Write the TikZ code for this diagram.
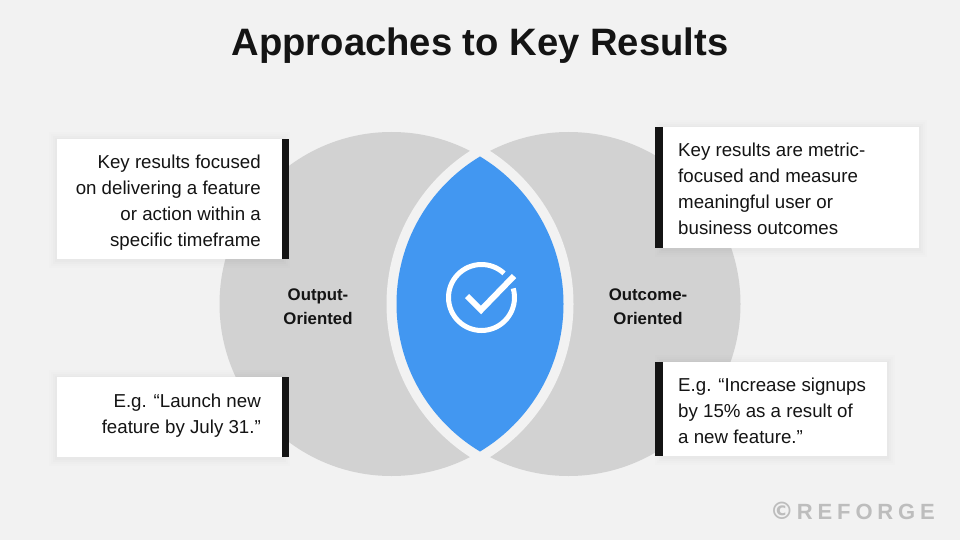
\documentclass[tikz,border=0pt]{standalone}
\usepackage{fontspec}
\usetikzlibrary{calc}
\setmainfont{Liberation Sans}
\newfontfamily\wmfont[LetterSpace=22]{Liberation Sans}
\newfontfamily\copyfont{DejaVu Sans}
\definecolor{bgc}{HTML}{F2F2F2}
\definecolor{greyc}{HTML}{D2D2D2}
\definecolor{bluec}{HTML}{4297F1}
\definecolor{inkc}{HTML}{141414}
\definecolor{wmc}{HTML}{BDBDBD}
\tikzset{
  x=1pt,y=-1pt,
  bodytext/.style={inner sep=0pt,text=inkc,font=\fontsize{18.7}{26}\selectfont},
  labeltext/.style={inner sep=0pt,text=inkc,align=center,font=\fontsize{16.8}{24}\selectfont\bfseries},
  cardface/.style={fill=white},
  cardbar/.style={fill=inkc},
  ringline/.style={draw=white,line width=5pt,line cap=butt},
  tickline/.style={draw=white,line width=6pt,line cap=butt,line join=miter}
}
\newcommand{\softshadow}[4]{%
  \foreach \e/\o in {8/0.006,6/0.008,4/0.01,2/0.012}{
    \fill[black,opacity=\o] (#1-\e,#2-\e+1) rectangle (#3+\e,#4+\e+1);
  }}
\begin{document}
\begin{tikzpicture}
\useasboundingbox (0,0) rectangle (960,540);
\fill[bgc] (0,0) rectangle (960,540);
\coordinate (L) at (391.5,304);
\coordinate (R) at (568.5,304);
\fill[greyc] (L) circle (172);
\fill[greyc] (R) circle (172);
\begin{scope}
  \clip (L) circle (182);
  \fill[bgc] (R) circle (182);
\end{scope}
\begin{scope}
  \clip (L) circle (172);
  \fill[bluec] (R) circle (172);
\end{scope}
% icon
\draw[ringline] plot[smooth,samples=60,domain=47:376,variable=\t] ({481.5+33*cos(\t)},{297.5-33*sin(\t)});
\coordinate (t1) at (467,296);
\coordinate (t2) at (481,310);
\coordinate (t3) at (514,276);
\draw[tickline] (t1) -- (t2) -- (t3);
% title
\node[inner sep=0pt,text=inkc,font=\fontsize{38.2}{44}\selectfont\bfseries] (title) at (480,46) {Approaches to Key Results};
% cards
\softshadow{57}{139}{282}{259}
\fill[cardface] (57,139) rectangle (282,259);
\fill[cardbar] (282,139) rectangle (289,259);
\node[bodytext,align=right,anchor=east] (c1) at (261,203) {Key results focused\\on delivering a feature\\or action within a\\specific timeframe};
\softshadow{57}{377}{282}{457}
\fill[cardface] (57,377) rectangle (282,457);
\fill[cardbar] (282,377) rectangle (289,457);
\node[bodytext,align=right,anchor=east] (c2) at (261,416) {E.g. “Launch new\\feature by July 31.”};
\softshadow{663}{127}{919}{248}
\fill[cardface] (663,127) rectangle (919,248);
\fill[cardbar] (655,127) rectangle (663,248);
\node[bodytext,align=left,anchor=west] (c3) at (678,189) {Key results are metric-\\focused and measure\\meaningful user or\\business outcomes};
\softshadow{663}{362}{887}{456}
\fill[cardface] (663,362) rectangle (887,456);
\fill[cardbar] (655,362) rectangle (663,456);
\node[bodytext,align=left,anchor=west] (c4) at (678,411) {E.g. “Increase signups\\by 15\% as a result of\\a new feature.”};
\node[labeltext] (l1) at (318,307) {Output-\\Oriented};
\node[labeltext] (l2) at (648,307) {Outcome-\\Oriented};
\node[inner sep=0pt,anchor=east,text=wmc,font=\fontsize{22}{24}\selectfont] (wm) at (935,511) {{\copyfont\bfseries\fontsize{24}{24}\selectfont ©}\hspace{3pt}{\wmfont\bfseries REFORGE}};
\end{tikzpicture}
\end{document}
